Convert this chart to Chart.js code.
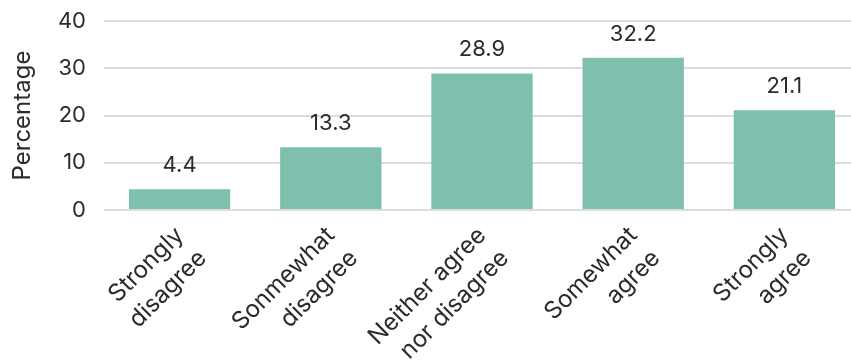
<!DOCTYPE html>
<html>
<head>
<meta charset="utf-8">
<script src="https://cdn.jsdelivr.net/npm/chart.js@4"></script>
<style>
  html, body { margin: 0; padding: 0; background: #fff; overflow: hidden; }
  #wrap { width: 860px; height: 360px; }
</style>
</head>
<body>
<div id="wrap"><canvas id="agreeChart"></canvas></div>
<script>
// Response shares for the five-point agreement scale
const categories = [
  ['Strongly', 'disagree'],
  ['Sonmewhat', 'disagree'],
  ['Neither agree', 'nor disagree'],
  ['Somewhat', 'agree'],
  ['Strongly', 'agree']
];
const percentages = [4.4, 13.3, 28.9, 32.2, 21.1];
const yTicks = [0, 10, 20, 30, 40];

const textColor = '#2b2b2b';
const fontFamily = 'Inter, Lato, sans-serif';
const numberSize = 22;
const wordSize = 24;

// draws the value above each bar
const barValues = {
  id: 'barValues',
  afterDatasetsDraw(chart) {
    const ctx = chart.ctx;
    const meta = chart.getDatasetMeta(0);
    ctx.save();
    ctx.fillStyle = textColor;
    ctx.font = numberSize + 'px ' + fontFamily;
    ctx.textAlign = 'center';
    ctx.textBaseline = 'alphabetic';
    meta.data.forEach((bar, i) => {
      ctx.fillText(percentages[i].toFixed(1), bar.x, bar.y - 17);
    });
    ctx.restore();
  }
};

new Chart(document.getElementById('agreeChart'), {
  type: 'bar',
  data: {
    labels: categories,
    datasets: [{
      data: percentages,
      backgroundColor: '#7fbfae',
      categoryPercentage: 0.67,
      barPercentage: 1.0
    }]
  },
  options: {
    responsive: true,
    maintainAspectRatio: false,
    animation: false,
    layout: { padding: { top: 21, right: 0, left: 0, bottom: 0 } },
    plugins: {
      legend: { display: false },
      tooltip: { enabled: false }
    },
    scales: {
      x: {
        grid: { display: false },
        border: { display: false },
        ticks: {
          color: textColor,
          font: { family: fontFamily, size: wordSize, lineHeight: 1.35 },
          maxRotation: 45,
          minRotation: 45,
          padding: 2
        },
        afterFit(scale) { scale.height = 150; }
      },
      y: {
        min: 0,
        max: 40,
        afterBuildTicks(scale) {
          scale.ticks = yTicks.map(v => ({ value: v }));
        },
        grid: { color: '#dcdcdc', lineWidth: 2, drawTicks: false },
        border: { display: false },
        ticks: {
          color: textColor,
          font: { family: fontFamily, size: numberSize },
          padding: 18
        },
        title: {
          display: true,
          text: 'Percentage',
          color: textColor,
          font: { family: fontFamily, size: wordSize },
          padding: { top: 8, bottom: 12 }
        },
        afterFit(scale) {
          scale.width = 104;
          scale.paddingTop = 0;
          scale.paddingBottom = 0;
        }
      }
    }
  },
  plugins: [barValues]
});
</script>
</body>
</html>
